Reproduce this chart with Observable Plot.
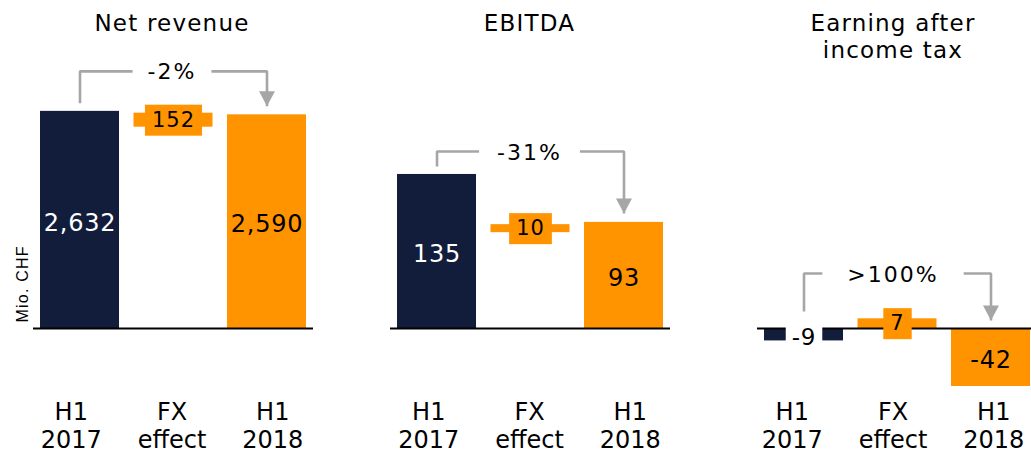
<!DOCTYPE html>
<html>
<head>
<meta charset="utf-8">
<script src="https://cdn.jsdelivr.net/npm/d3@7"></script>
<script src="https://cdn.jsdelivr.net/npm/@observablehq/plot@0.6"></script>
<style>
  html, body { margin: 0; padding: 0; background: #fff; }
  #chart { position: relative; width: 1031px; height: 453px; overflow: hidden; background: #fff; }
  g[aria-description="title"] text { letter-spacing: 1.2px; }
  g[aria-description="pct"] text { letter-spacing: 2px; }
  g[aria-description="value"] text, g[aria-description="value-boxed"] text { letter-spacing: 0.8px; }
  g[aria-description="fx-label"] text { letter-spacing: 1px; }
  g[aria-description="unit"] text { letter-spacing: 1.2px; }
</style>
</head>
<body>
<div id="chart"></div>
<script>
// ---- data ----
const panelTitles = ["Net revenue", "EBITDA", "Earning after\nincome tax"];
const categories = ["H1 2017", "FX effect", "H1 2018"];
const categoryLabels = ["H1\n2017", "FX\neffect", "H1\n2018"];
const valuesH1_2017 = [2632, 135, -9];
const valuesH1_2018 = [2590, 93, -42];
const fxEffect = [152, 10, 7];
const fxMarkerLow = [2440, 84, 0];
const fxMarkerHigh = [2610, 91, 7];
const changeLabels = ["-2%", "-31%", ">100%"];
const unitLabel = "Mio. CHF";

// ---- styles / layout ----
const NAVY = "#121d3c", ORANGE = "#ff9300", GRAY = "#a6a6a6";
const H = 453, BASE = 328, FRAME_W = 280, ML = 33, MR = 10;
const LABEL_SPREAD = 7.25;
const layout = [
  {left: 0,   pxPerUnit: 0.0825, rise: 40, leftGap: 8,  tipGap: 8.5, pctPad: 15, shift: -1.5},
  {left: 357, pxPerUnit: 1.141,  rise: 23, leftGap: 8,  tipGap: 9,   pctPad: 18, shift: -1},
  {left: 724, pxPerUnit: 1.38,   rise: 55, leftGap: 17, tipGap: 8,   pctPad: 25, shift: -4.5}
];
const FONT = "'DejaVu Sans', Verdana, sans-serif";
const fmt = v => v.toLocaleString("en-US");

const arrowDown = {
  draw(context, size) {
    const s = Math.sqrt(size), h = s * 0.94;
    context.moveTo(-s / 2, -h / 2);
    context.lineTo(s / 2, -h / 2);
    context.lineTo(0, h / 2);
    context.closePath();
  }
};

function addBoxes(svg, label, fill, padX, halfH) {
  svg.querySelectorAll(`g[aria-description="${label}"] text`).forEach(t => {
    const b = t.getBBox();
    const r = document.createElementNS("http://www.w3.org/2000/svg", "rect");
    r.setAttribute("x", b.x - padX);
    r.setAttribute("width", b.width + 2 * padX);
    r.setAttribute("y", -halfH);
    r.setAttribute("height", 2 * halfH);
    r.setAttribute("fill", fill);
    r.setAttribute("stroke", "none");
    const tr = t.getAttribute("transform");
    if (tr) r.setAttribute("transform", tr);
    t.parentNode.insertBefore(r, t);
  });
}

const container = document.getElementById("chart");

layout.forEach((L, i) => {
  const k = L.pxPerUnit;
  const px = p => p / k;
  const bars = [
    {cat: categories[0], value: valuesH1_2017[i], color: NAVY, textColor: "white"},
    {cat: categories[2], value: valuesH1_2018[i], color: ORANGE, textColor: "black"}
  ];
  const fxRow = [{cat: categories[1], low: fxMarkerLow[i], high: fxMarkerHigh[i], label: fmt(fxEffect[i])}];
  const top0 = Math.max(valuesH1_2017[i], 0);
  const top2 = Math.max(valuesH1_2018[i], 0);
  const yBracket = top0 + px(L.rise);
  const bracket = [
    {cat: categories[0], y: top0 + px(L.leftGap)},
    {cat: categories[0], y: yBracket},
    {cat: categories[2], y: yBracket},
    {cat: categories[2], y: top2 + px(L.tipGap)}
  ];
  const labels = bars.map(b => ({...b, text: fmt(b.value), boxed: Math.abs(b.value) * k < 20}));

  const marks = [
    Plot.barY(bars, {x: "cat", y: "value", fill: "color"}),
    Plot.barY(fxRow, {x: "cat", y1: "low", y2: "high", fill: ORANGE}),
    Plot.ruleY([0], {stroke: "black", strokeWidth: 2}),
    Plot.line(bracket, {x: "cat", y: "y", stroke: GRAY, strokeWidth: 2.6, strokeLinejoin: "miter", strokeLinecap: "butt"}),
    Plot.dot([bracket[3]], {x: "cat", y: "y", symbol: arrowDown, r: 9, fill: GRAY, dy: -7.5}),
    Plot.text([changeLabels[i]], {x: () => categories[1], y: () => yBracket, text: d => d, dy: 1, dx: L.shift, fontSize: 22, fill: "black", ariaDescription: "pct"}),
    Plot.text(fxRow, {x: "cat", y: d => (d.low + d.high) / 2, text: "label", fontSize: 21, fill: "black", ariaDescription: "fx-label"}),
    Plot.text(labels.filter(d => !d.boxed), {x: "cat", y: d => d.value / 2, text: "text", fill: "textColor", dy: 3, fontSize: 24, ariaDescription: "value"}),
    Plot.text(labels.filter(d => d.boxed), {x: "cat", y: d => d.value / 2, text: "text", fill: "black", dy: 3, fontSize: 23, ariaDescription: "value-boxed"}),
    Plot.text([panelTitles[i]], {x: () => categories[1], text: d => d, frameAnchor: "top", lineAnchor: "top", dy: 12, dx: L.shift, fontSize: 23, lineHeight: 1.15, fill: "black", ariaDescription: "title"}),
    ...categories.map((c, j) => Plot.text([c], {x: d => d, text: () => categoryLabels[j], frameAnchor: "bottom", lineAnchor: "middle", dy: -28.5, dx: (j - 1) * LABEL_SPREAD + L.shift, fontSize: 24, lineHeight: 1.17, fill: "black", ariaDescription: "category"}))
  ];
  if (i === 0) {
    marks.push(Plot.text([unitLabel], {y: () => 0, text: d => d, frameAnchor: "left", rotate: -90, textAnchor: "start", dx: -10.5, dy: -6, fontSize: 16, fontFamily: "'Liberation Sans', Arial, sans-serif", fill: "black", ariaDescription: "unit"}));
  }

  const svg = Plot.plot({
    width: ML + FRAME_W + MR,
    height: H,
    marginLeft: ML, marginRight: MR, marginTop: 0, marginBottom: 0,
    x: {domain: categories, paddingInner: 0.155, paddingOuter: 0.075, round: false, axis: null},
    y: {domain: [-(H - BASE) / k, BASE / k], axis: null},
    color: {type: "identity"},
    style: {fontFamily: FONT, background: "transparent", overflow: "visible"},
    marks
  });
  svg.style.position = "absolute";
  svg.style.left = L.left + "px";
  svg.style.top = "0px";
  container.appendChild(svg);

  addBoxes(svg, "fx-label", ORANGE, 7, 15.5);
  addBoxes(svg, "value-boxed", "white", 6, 12);
  addBoxes(svg, "pct", "white", L.pctPad, 12);
});
</script>
</body>
</html>
